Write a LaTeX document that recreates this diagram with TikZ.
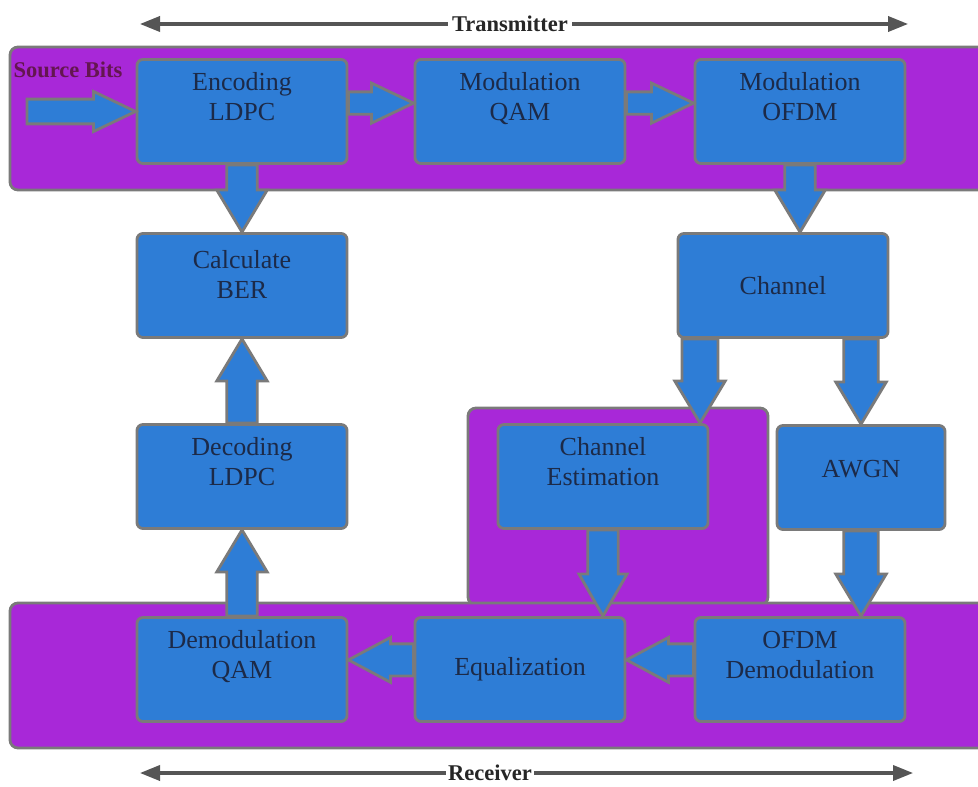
\documentclass[tikz,border=0pt]{standalone}
\usepackage{fontspec}
\setmainfont{Liberation Serif}
\usetikzlibrary{calc,arrows.meta}

\definecolor{bandpurple}{RGB}{168,40,216}
\definecolor{blockblue}{RGB}{46,125,214}
\definecolor{edgegray}{RGB}{122,122,122}
\definecolor{labelnavy}{RGB}{28,42,72}
\definecolor{spangray}{RGB}{85,85,85}
\definecolor{srcpurple}{RGB}{100,22,80}

% fat arrow: from, to, half shaft width, half head width
\newcommand{\headlen}{1.05cm}
\newcommand{\BArrow}[4]{%
  \coordinate (h) at ($(#2)!\headlen!(#1)$);
  \filldraw[barrow] ($(#1)!#3!90:(#2)$) -- ($(h)!#3!90:(#2)$) -- ($(h)!#4!90:(#2)$)
    -- (#2) -- ($(h)!#4!-90:(#2)$) -- ($(h)!#3!-90:(#2)$) -- ($(#1)!#3!-90:(#2)$) -- cycle;}

\begin{document}
\begin{tikzpicture}[x=0.025cm, y=-0.025cm,
    band/.style={fill=bandpurple, draw=edgegray, line width=2pt, rounded corners=0.2cm},
    block/.style={fill=blockblue, draw=edgegray, line width=2pt, rounded corners=0.15cm,
        minimum width=5.25cm, minimum height=2.6cm, align=center, text=labelnavy,
        font=\fontsize{18.5}{21.3}\selectfont},
    barrow/.style={fill=blockblue, draw=edgegray, line width=2pt},
    span/.style={draw=spangray, line width=2.2pt, -{Triangle[length=0.5cm,width=0.38cm]}},
    spanlabel/.style={fill=white, inner xsep=3pt, inner ysep=1pt, text=black!85,
        font=\fontsize{16}{18}\selectfont\bfseries}]
    \useasboundingbox (0,0) rectangle (978,787);

    \draw[band] (10,47) rectangle (995,190);
    \draw[band] (468,408) rectangle (768,605);
    \draw[band] (10,603) rectangle (995,748);

    \node[block] (enc)  at (242,111.5) {Encoding\\LDPC\\};
    \node[block] (qam)  at (520,111.5) {Modulation\\QAM\\};
    \node[block] (ofdm) at (800,111.5) {Modulation\\OFDM\\};
    \node[block] (ber)  at (242,285.5) {Calculate\\BER\\[-6pt]};
    \node[block] (chan) at (783,285.5) {Channel};
    \node[block] (dec)  at (242,476.5) {Decoding\\LDPC\\};
    \node[block] (est)  at (603,476.5) {Channel\\Estimation\\};
    \node[block, minimum width=4.2cm] (awgn) at (861,477.5) {AWGN\\[-9pt]};
    \node[block] (dqam) at (242,669.5) {Demodulation\\QAM\\};
    \node[block] (equ)  at (520,669.5) {Equalization};
    \node[block] (odem) at (800,669.5) {OFDM\\Demodulation\\};

    \node[text=srcpurple, font=\fontsize{16}{18}\selectfont\bfseries] (srclbl) at (68,70) {Source Bits};

    \coordinate (src) at (27,111.5);
    \coordinate (a1) at ([yshift=0.21cm]enc.east);
    \coordinate (a2) at ([yshift=0.21cm]qam.west);
    \coordinate (a3) at ([yshift=0.21cm]qam.east);
    \coordinate (a4) at ([yshift=0.21cm]ofdm.west);
    \coordinate (c1) at (ofdm.south |- chan.north);
    \coordinate (c2) at ([xshift=-2.075cm]chan.south);
    \coordinate (c3) at (c2 |- est.north);
    \coordinate (c4) at (awgn.north |- chan.south);
    \coordinate (c5) at (est.south |- equ.north);
    \coordinate (c6) at (awgn.south |- odem.north);
    \coordinate (b1) at ([yshift=0.24cm]odem.west);
    \coordinate (b2) at ([yshift=0.24cm]equ.east);
    \coordinate (b3) at ([yshift=0.24cm]equ.west);
    \coordinate (b4) at ([yshift=0.24cm]dqam.east);

    \BArrow{src}{enc.west}{0.31cm}{0.5cm}
    \BArrow{a1}{a2}{0.28cm}{0.5cm}
    \BArrow{a3}{a4}{0.28cm}{0.5cm}
    \BArrow{enc.south}{ber.north}{0.38cm}{0.63cm}
    \BArrow{ofdm.south}{c1}{0.38cm}{0.63cm}
    \BArrow{c2}{c3}{0.45cm}{0.63cm}
    \BArrow{c4}{awgn.north}{0.43cm}{0.63cm}
    \BArrow{est.south}{c5}{0.38cm}{0.6cm}
    \BArrow{awgn.south}{c6}{0.43cm}{0.63cm}
    \BArrow{b1}{b2}{0.4cm}{0.56cm}
    \BArrow{b3}{b4}{0.4cm}{0.56cm}
    \BArrow{dqam.north}{dec.south}{0.38cm}{0.63cm}
    \BArrow{dec.north}{ber.south}{0.38cm}{0.63cm}

    \coordinate (tl) at (140,24);
    \coordinate (tr) at (908,24);
    \node[spanlabel] (tx) at (510,24) {Transmitter};
    \draw[span] (tx) -- (tl);
    \draw[span] (tx) -- (tr);

    \coordinate (rl) at (140,773);
    \coordinate (rr) at (913,773);
    \node[spanlabel, inner xsep=1.5pt] (rx) at (490,773) {Receiver};
    \draw[span] (rx) -- (rl);
    \draw[span] (rx) -- (rr);
\end{tikzpicture}
\end{document}
